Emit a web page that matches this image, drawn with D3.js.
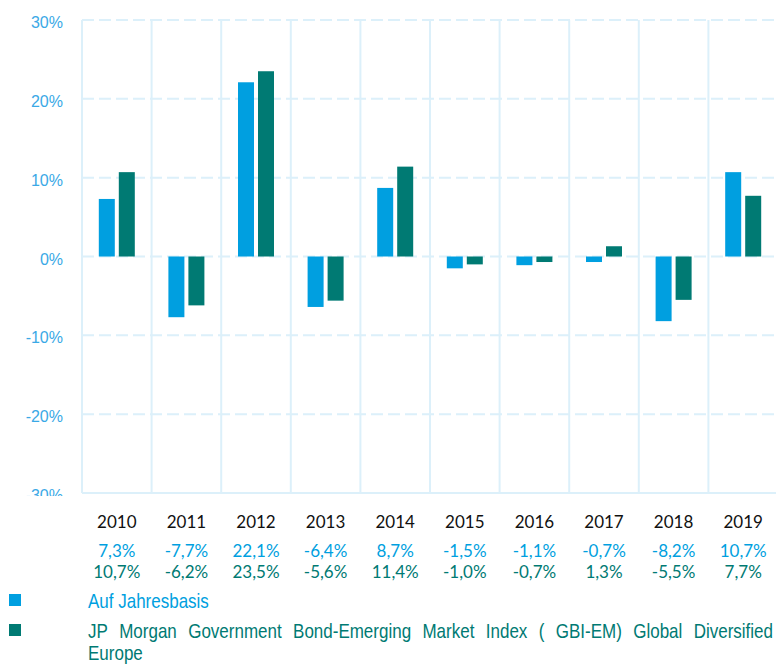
<!DOCTYPE html>
<html>
<head>
<meta charset="utf-8">
<script src="https://cdn.jsdelivr.net/npm/d3@7"></script>
<style>
  body { margin: 0; background: #fff; }
  svg { display: block; }
</style>
</head>
<body>
<div id="chart"></div>
<script>
const years = ["2010", "2011", "2012", "2013", "2014", "2015", "2016", "2017", "2018", "2019"];
const fund = [7.3, -7.7, 22.1, -6.4, 8.7, -1.5, -1.1, -0.7, -8.2, 10.7];
const bench = [10.7, -6.2, 23.5, -5.6, 11.4, -1.0, -0.7, 1.3, -5.5, 7.7];
const yTicks = [30, 20, 10, 0, -10, -20, -30];
const legendLabels = ["Auf Jahresbasis",
  "JP Morgan Government Bond-Emerging Market Index ( GBI-EM) Global Diversified",
  "Europe"];

const blue = "#009fe0", teal = "#007a73", grid = "#dcf0fa", axisBlue = "#3aa9e6";

const W = 776, H = 664;
const margin = {top: 20, left: 82, right: -2, bottom: 493};

const svg = d3.select("#chart").append("svg").attr("width", W).attr("height", H);

const x = d3.scaleBand().domain(years).range([margin.left, W - margin.right]);
const y = d3.scaleLinear().domain([-30, 30]).range([margin.bottom, margin.top]);

// horizontal dashed gridlines
svg.append("g").selectAll("line")
  .data(yTicks)
  .join("line")
  .attr("x1", margin.left).attr("x2", W)
  .attr("y1", d => y(d)).attr("y2", d => y(d))
  .attr("stroke", grid)
  .attr("stroke-width", 2)
  .attr("stroke-dasharray", d => d === -30 ? null : "12,5");

// vertical gridlines
svg.append("g").selectAll("line")
  .data(years)
  .join("line")
  .attr("x1", d => x(d)).attr("x2", d => x(d))
  .attr("y1", y(30)).attr("y2", y(-30))
  .attr("stroke", grid)
  .attr("stroke-width", 2);

// y labels (bottom one is cut off by the plot edge)
svg.append("clipPath").attr("id", "yclip")
  .append("rect").attr("x", 0).attr("y", 0).attr("width", 80).attr("height", y(-30) + 3);

svg.append("g").attr("clip-path", "url(#yclip)")
  .selectAll("text")
  .data(yTicks)
  .join("text")
  .attr("x", 63)
  .attr("y", d => y(d) + 8)
  .attr("text-anchor", "end")
  .attr("fill", axisBlue)
  .style("font-family", "Liberation Sans, Arial, sans-serif")
  .style("font-size", "16px")
  .text(d => d + "%");

// bars
const bw = 16;
svg.append("g").selectAll("rect")
  .data(years)
  .join("rect")
  .attr("x", d => x(d) + x.bandwidth() / 2 - bw - 2)
  .attr("width", bw)
  .attr("y", (d, i) => y(Math.max(0, fund[i])))
  .attr("height", (d, i) => Math.abs(y(fund[i]) - y(0)))
  .attr("fill", blue);

svg.append("g").selectAll("rect")
  .data(years)
  .join("rect")
  .attr("x", d => x(d) + x.bandwidth() / 2 + 2)
  .attr("width", bw)
  .attr("y", (d, i) => y(Math.max(0, bench[i])))
  .attr("height", (d, i) => Math.abs(y(bench[i]) - y(0)))
  .attr("fill", teal);

// table under chart
const fmt = v => d3.format(".1f")(v).replace("\u2212", "-").replace(".", ",") + "%";
const table = svg.append("g")
  .style("font-family", "Lato, 'Open Sans', sans-serif")
  .style("font-size", "17px")
  .attr("text-anchor", "middle");

table.selectAll("text.yr")
  .data(years)
  .join("text")
  .attr("class", "yr")
  .attr("x", d => x(d) + x.bandwidth() / 2)
  .attr("y", 528)
  .attr("fill", "#111")
  .text(d => d);

table.selectAll("text.f")
  .data(years)
  .join("text")
  .attr("class", "f")
  .attr("x", d => x(d) + x.bandwidth() / 2)
  .attr("y", 557)
  .attr("fill", blue)
  .text((d, i) => fmt(fund[i]));

table.selectAll("text.b")
  .data(years)
  .join("text")
  .attr("class", "b")
  .attr("x", d => x(d) + x.bandwidth() / 2)
  .attr("y", 578)
  .attr("fill", teal)
  .text((d, i) => fmt(bench[i]));

// legend
svg.append("rect").attr("x", 9).attr("y", 594).attr("width", 12).attr("height", 12).attr("fill", blue);
svg.append("rect").attr("x", 9).attr("y", 624).attr("width", 12).attr("height", 12).attr("fill", teal);

// narrow look: squeeze horizontally
const sx = 0.85, left = 88, right = 773;
const leg = svg.append("g")
  .attr("transform", `translate(${left},0) scale(${sx},1)`)
  .style("font-family", "'Liberation Sans', Arial, sans-serif")
  .style("font-size", "20px");

leg.append("text").attr("x", 0).attr("y", 608).attr("fill", blue).text(legendLabels[0]);

// justified line: spread words across the full width
const line2 = leg.append("text").attr("y", 638).attr("fill", teal);
const words = legendLabels[1].split(" ");
const tmp = leg.append("text").style("visibility", "hidden");
const widths = words.map(w => { tmp.text(w); return tmp.node().getComputedTextLength(); });
tmp.remove();
const gap = ((right - left) / sx - d3.sum(widths)) / (words.length - 1);
let cx = 0;
words.forEach((w, i) => {
  line2.append("tspan").attr("x", cx).text(w);
  cx += widths[i] + gap;
});

leg.append("text").attr("x", 0).attr("y", 660).attr("fill", teal).text(legendLabels[2]);
</script>
</body>
</html>
